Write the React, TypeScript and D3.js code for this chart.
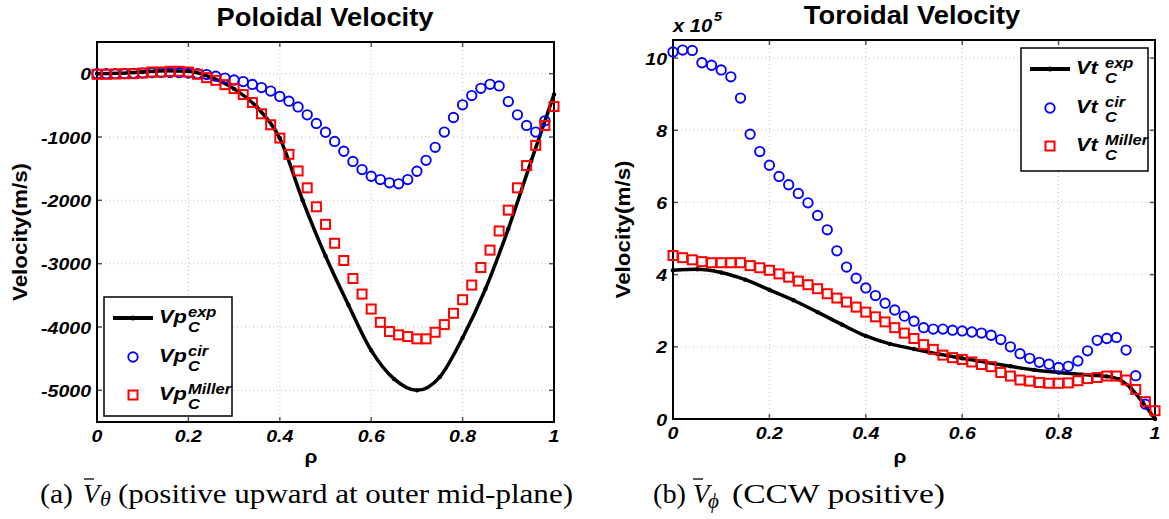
import React from 'react';
import * as d3 from 'd3';

// ---------- data ----------
const rhoGrid = [0, 0.02, 0.04, 0.06, 0.08, 0.1, 0.12, 0.14, 0.16, 0.18, 0.2, 0.22, 0.24, 0.26, 0.28, 0.3, 0.32, 0.34, 0.36, 0.38, 0.4, 0.42, 0.44, 0.46, 0.48, 0.5, 0.52, 0.54, 0.56, 0.58, 0.6, 0.62, 0.64, 0.66, 0.68, 0.7, 0.72, 0.74, 0.76, 0.78, 0.8, 0.82, 0.84, 0.86, 0.88, 0.9, 0.92, 0.94, 0.96, 0.98, 1.0];

// Poloidal velocity (m/s)
const vpExpRho = [0, 0.05, 0.1, 0.15, 0.2, 0.25, 0.3, 0.35, 0.4, 0.45, 0.5, 0.55, 0.6, 0.65, 0.7, 0.75, 0.8, 0.85, 0.9, 0.95, 1.0];
const vpExp = [0, 5, 25, 45, 40, -60, -240, -530, -1020, -2000, -2880, -3650, -4370, -4820, -5000, -4790, -4170, -3400, -2450, -1380, -330];
const vpCir = [0, 0, 0, 0, 5, 10, 15, 20, 20, 15, 10, 0, -15, -40, -70, -100, -125, -170, -220, -275, -360, -435, -525, -650, -785, -925, -1070, -1225, -1385, -1515, -1620, -1672, -1724, -1740, -1672, -1541, -1368, -1163, -922, -692, -492, -346, -231, -168, -194, -440, -650, -818, -922, -745];
const vpMiller = [-10, -10, -5, 0, 0, 10, 26, 26, 37, 37, 26, -10, -63, -105, -173, -236, -330, -456, -634, -807, -1017, -1274, -1536, -1803, -2102, -2379, -2678, -2950, -3234, -3480, -3716, -3926, -4072, -4124, -4151, -4187, -4187, -4083, -3962, -3784, -3569, -3338, -3061, -2786, -2484, -2154, -1803, -1451, -1132, -818, -519];

// Toroidal velocity (x 1e5 m/s)
const vtExpRho = [0, 0.05, 0.1, 0.15, 0.2, 0.25, 0.3, 0.35, 0.4, 0.45, 0.5, 0.55, 0.6, 0.65, 0.7, 0.75, 0.8, 0.85, 0.9, 0.925, 0.95, 0.975, 1.0];
const vtExp = [4.12, 4.15, 4.06, 3.86, 3.58, 3.29, 2.96, 2.62, 2.3, 2.08, 1.94, 1.8, 1.68, 1.57, 1.46, 1.36, 1.29, 1.23, 1.18, 1.1, 0.85, 0.45, 0.0];
const vtCir = [10.17, 10.22, 10.21, 9.87, 9.8, 9.67, 9.48, 8.89, 7.89, 7.41, 7.03, 6.72, 6.49, 6.25, 5.99, 5.64, 5.24, 4.66, 4.21, 3.9, 3.63, 3.42, 3.21, 3.02, 2.85, 2.71, 2.53, 2.49, 2.49, 2.46, 2.44, 2.41, 2.38, 2.32, 2.2, 2.0, 1.81, 1.68, 1.57, 1.52, 1.43, 1.46, 1.61, 1.89, 2.18, 2.23, 2.26, 1.91, 1.2, 0.41];
const vtMiller = [4.53, 4.47, 4.41, 4.36, 4.33, 4.33, 4.33, 4.33, 4.25, 4.19, 4.12, 4.02, 3.93, 3.82, 3.72, 3.61, 3.47, 3.35, 3.24, 3.1, 2.96, 2.83, 2.69, 2.53, 2.38, 2.23, 2.06, 1.93, 1.77, 1.7, 1.65, 1.58, 1.51, 1.45, 1.29, 1.19, 1.08, 1.05, 1.01, 0.99, 0.99, 1.0, 1.06, 1.12, 1.15, 1.19, 1.19, 1.08, 0.82, 0.48, 0.23];

const xTicks = [0, 0.2, 0.4, 0.6, 0.8, 1];
const xTickLabels = ['0', '0.2', '0.4', '0.6', '0.8', '1'];
const vpTicks = [0, -1000, -2000, -3000, -4000, -5000];
const vpTickLabels = ['0', '-1000', '-2000', '-3000', '-4000', '-5000'];
const vtTicks = [0, 2, 4, 6, 8, 10];
const vtTickLabels = ['0', '2', '4', '6', '8', '10'];

const SANS = '"Liberation Sans", Arial, Helvetica, sans-serif';
const SERIF = '"Liberation Serif", "Times New Roman", Times, serif';

type TProps = {
  x: number; y: number; size?: number; sx?: number; anchor?: string; weight?: string;
  italic?: boolean; family?: string; rotate?: number; fill?: string; children?: any;
};
function T({ x, y, size = 17, sx = 1, anchor = 'start', weight = 'bold', italic = false, family = SANS, rotate = 0, fill = '#000', children }: TProps) {
  return (
    <g transform={`translate(${x},${y}) rotate(${rotate}) scale(${sx},1)`}>
      <text x={0} y={0} fontFamily={family} fontSize={size} fontWeight={weight}
        fontStyle={italic ? 'italic' : 'normal'} textAnchor={anchor as any} fill={fill}>{children}</text>
    </g>
  );
}

function LegendLabel({ x, cy, main, sup }: { x: number; cy: number; main: string; sup: string }) {
  return (
    <g>
      <T x={x} y={cy + 5} size={19} sx={1.15} italic>{main}</T>
      <T x={x + 29} y={cy - 1} size={15} sx={1.1} italic>{sup}</T>
      <T x={x + 29} y={cy + 14} size={15} sx={1.1} italic>C</T>
    </g>
  );
}

type PanelProps = {
  box: { x0: number; x1: number; y0: number; y1: number };
  yDomain: [number, number];
  yTicks: number[]; yTickLabels: string[];
  expRho: number[]; exp: number[]; cir: number[]; miller: number[];
  legend: { x: number; y: number; w: number; h: number };
  prefix: string;
  title: string; titleX: number; titleY: number;
  ylabelX: number; rhoX: number;
};

function Panel(p: PanelProps) {
  const { box } = p;
  const x = d3.scaleLinear().domain([0, 1]).range([box.x0, box.x1]);
  const y = d3.scaleLinear().domain(p.yDomain).range([box.y1, box.y0]);
  const line = d3.line<number>().x((_, i) => x(p.expRho[i])).y((d) => y(d)).curve(d3.curveMonotoneX);
  const L = p.legend;
  const tickLen = 5;
  return (
    <g>
      {/* grid */}
      {xTicks.map((t) => (
        <line key={'gx' + t} x1={x(t)} x2={x(t)} y1={box.y0} y2={box.y1} stroke="#bdbdbd" strokeWidth={1} strokeDasharray="1,3" />
      ))}
      {p.yTicks.map((t) => (
        <line key={'gy' + t} x1={box.x0} x2={box.x1} y1={y(t)} y2={y(t)} stroke="#bdbdbd" strokeWidth={1} strokeDasharray="1,3" />
      ))}
      {/* ticks */}
      {xTicks.map((t) => (
        <g key={'tx' + t}>
          <line x1={x(t)} x2={x(t)} y1={box.y1} y2={box.y1 - tickLen} stroke="#555" strokeWidth={1.5} />
          <line x1={x(t)} x2={x(t)} y1={box.y0} y2={box.y0 + tickLen} stroke="#555" strokeWidth={1.5} />
        </g>
      ))}
      {p.yTicks.map((t) => (
        <g key={'ty' + t}>
          <line x1={box.x0} x2={box.x0 + tickLen} y1={y(t)} y2={y(t)} stroke="#555" strokeWidth={1.5} />
          <line x1={box.x1} x2={box.x1 - tickLen} y1={y(t)} y2={y(t)} stroke="#555" strokeWidth={1.5} />
        </g>
      ))}
      {/* box */}
      <rect x={box.x0} y={box.y0} width={box.x1 - box.x0} height={box.y1 - box.y0} fill="none" stroke="#000" strokeWidth={2} />
      {/* tick labels */}
      {xTicks.map((t, i) => (
        <T key={'lx' + t} x={x(t)} y={box.y1 + 20} anchor="middle" italic size={17} sx={1.15}>{xTickLabels[i]}</T>
      ))}
      {p.yTicks.map((t, i) => (
        <T key={'ly' + t} x={box.x0 - 6} y={y(t) + 6.5} anchor="end" italic size={17} sx={1.15}>{p.yTickLabels[i]}</T>
      ))}
      {/* series */}
      <path d={line(p.exp) || ''} fill="none" stroke="#000" strokeWidth={3.5} strokeLinejoin="round" />
      {p.exp.map((v, i) => (
        <circle key={'ed' + i} cx={x(p.expRho[i])} cy={y(v)} r={2.2} fill="#000" />
      ))}
      {p.cir.map((v, i) => (
        <circle key={'c' + i} cx={x(rhoGrid[i])} cy={y(v)} r={4.7} fill="none" stroke="#0000ff" strokeWidth={1.9} />
      ))}
      {p.miller.map((v, i) => (
        <rect key={'m' + i} x={x(rhoGrid[i]) - 4.5} y={y(v) - 4.5} width={9} height={9} fill="none" stroke="#ff0000" strokeWidth={2} />
      ))}
      {/* title & labels */}
      <T x={p.titleX} y={p.titleY} anchor="middle" size={26} sx={1.05}>{p.title}</T>
      <T x={p.ylabelX} y={(box.y0 + box.y1) / 2} anchor="middle" rotate={-90} size={20} sx={1.12}>Velocity(m/s)</T>
      <T x={p.rhoX} y={463} anchor="middle" size={19} sx={1.1}>ρ</T>
      {/* legend */}
      <rect x={L.x} y={L.y} width={L.w} height={L.h} fill="#fff" stroke="#000" strokeWidth={1.5} />
      <line x1={L.x + 9} x2={L.x + 49} y1={L.y + 21} y2={L.y + 21} stroke="#000" strokeWidth={4} />
      <circle cx={L.x + 29} cy={L.y + 21} r={2.5} fill="#000" />
      <circle cx={L.x + 29} cy={L.y + 60} r={4.7} fill="none" stroke="#0000ff" strokeWidth={1.9} />
      <rect x={L.x + 29 - 4.5} y={L.y + 98 - 4.5} width={9} height={9} fill="none" stroke="#ff0000" strokeWidth={2} />
      <LegendLabel x={L.x + 55} cy={L.y + 21} main={p.prefix} sup="exp" />
      <LegendLabel x={L.x + 55} cy={L.y + 60} main={p.prefix} sup="cir" />
      <LegendLabel x={L.x + 55} cy={L.y + 98} main={p.prefix} sup="Miller" />
    </g>
  );
}

export default function App() {
  return (
    <svg width={1169} height={519} style={{ position: 'absolute', left: 0, top: 0, background: '#fff' }}>
      <rect x={0} y={0} width={1169} height={519} fill="#fff" />
      <Panel
        box={{ x0: 97, x1: 554, y0: 42, y1: 422 }}
        yDomain={[-5500, 500]}
        yTicks={vpTicks} yTickLabels={vpTickLabels}
        expRho={vpExpRho} exp={vpExp} cir={vpCir} miller={vpMiller}
        legend={{ x: 104, y: 297, w: 128, h: 119 }}
        prefix="Vp"
        title="Poloidal Velocity" titleX={325} titleY={26}
        ylabelX={27} rhoX={311}
      />
      <Panel
        box={{ x0: 673, x1: 1155, y0: 40, y1: 419 }}
        yDomain={[0, 10.5]}
        yTicks={vtTicks} yTickLabels={vtTickLabels}
        expRho={vtExpRho} exp={vtExp} cir={vtCir} miller={vtMiller}
        legend={{ x: 1021, y: 48, w: 127, h: 123 }}
        prefix="Vt"
        title="Toroidal Velocity" titleX={912} titleY={24}
        ylabelX={630} rhoX={900}
      />
      {/* x 10^5 */}
      <T x={673} y={32} size={18} sx={1.12} italic>x 10</T>
      <T x={714} y={21} size={13} sx={1.1} italic>5</T>
      {/* captions */}
      <g fontFamily={SERIF}>
        <text x={40} y={503} fontSize={27} textLength={33} lengthAdjust="spacingAndGlyphs">(a)</text>
        <text x={83} y={503} fontSize={27} fontStyle="italic">V</text>
        <line x1={84} x2={94} y1={479} y2={479} stroke="#000" strokeWidth={1.3} />
        <text x={100} y={506} fontSize={22} fontStyle="italic">θ</text>
        <text x={118} y={503} fontSize={27} textLength={455} lengthAdjust="spacingAndGlyphs">(positive upward at outer mid-plane)</text>

        <text x={653} y={503} fontSize={27} textLength={33} lengthAdjust="spacingAndGlyphs">(b)</text>
        <text x={693} y={503} fontSize={27} fontStyle="italic">V</text>
        <line x1={693} x2={703} y1={479} y2={479} stroke="#000" strokeWidth={1.3} />
        <text x={708} y={508} fontSize={21} fontStyle="italic">ϕ</text>
        <text x={732} y={503} fontSize={27} textLength={213} lengthAdjust="spacingAndGlyphs">(CCW positive)</text>
      </g>
    </svg>
  );
}
